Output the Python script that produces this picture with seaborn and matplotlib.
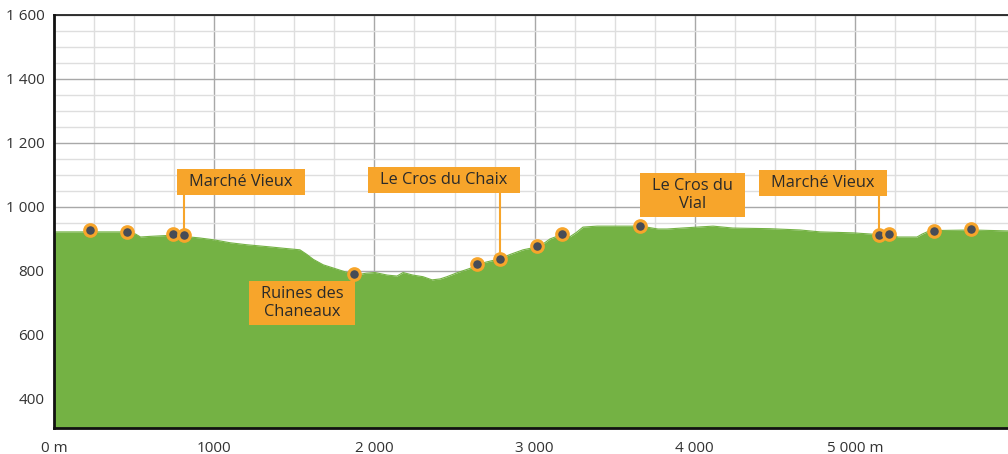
import numpy as np
import pandas as pd
import matplotlib
matplotlib.use("Agg")
import matplotlib.pyplot as plt
from matplotlib.patches import Rectangle
import seaborn as sns

# ---- data ----
dist_m = [0, 470, 510, 540, 600, 755, 850, 910, 1000, 1100, 1200, 1350, 1450, 1535,
          1577, 1619, 1681, 1744, 1800, 1879, 1950, 2004, 2080, 2141, 2179, 2240,
          2303, 2360, 2410, 2453, 2520, 2597, 2640, 2700, 2784, 2850, 2928, 3015,
          3060, 3096, 3171, 3221, 3260, 3302, 3390, 3658, 3700, 3770, 3826, 3950,
          4114, 4238, 4469, 4657, 4782, 4988, 5137, 5219, 5268, 5387, 5418, 5468,
          5730, 5955]
elev_m = [922, 922, 915, 906, 908, 912, 906, 903, 897, 888, 882, 875, 870, 866,
          852, 836, 819, 809, 800, 787, 793, 795, 787, 784, 795, 787,
          782, 772, 775, 782, 795, 808, 820, 828, 838, 852, 866, 875,
          887, 900, 914, 907, 920, 937, 940, 940, 937, 931, 931, 935,
          940, 934, 932, 928, 922, 919, 914, 914, 906, 906, 915, 926,
          928, 925]

wp_dist = [225, 456, 743, 811, 1873, 2640, 2784, 3015, 3171, 3658, 5150, 5212, 5493, 5724]
wp_elev = [928, 922, 916, 912, 791, 822, 837, 878, 916, 941, 912, 916, 925, 931]

label_text = ["Marché Vieux", "Ruines des\nChaneaux", "Le Cros du Chaix", "Le Cros du\nVial", "Marché Vieux"]
label_x = [1167, 1548, 2434, 3983, 4800]
label_y = [1078, 700, 1084, 1037, 1075]
# connector lines: waypoint distance and elevation (None = no connector)
conn_x = [811, None, 2784, None, 5150]
conn_bot = [912, None, 837, None, 912]

xtick_vals = [0, 1000, 2000, 3000, 4000, 5000]
xtick_labels = ["0 m", "1000", "2 000", "3 000", "4 000", "5 000 m"]
ytick_vals = [400, 600, 800, 1000, 1200, 1400, 1600]
ytick_labels = ["400", "600", "800", "1 000", "1 200", "1 400", "1 600"]

# ---- style ----
sns.set_style("white")
plt.rcParams["font.family"] = ["Open Sans", "DejaVu Sans"]

GREEN = "#74b244"
ORANGE = "#f7a52b"
DARK = "#474c57"
TEXT = "#333333"

fig = plt.figure(figsize=(10.08, 4.54), dpi=100)
ax = fig.add_axes([54/1008, 1 - 428/454, 1 - 54/1008, (428 - 15)/454])

df = pd.DataFrame({"dist": dist_m, "elev": elev_m})
ymin = 309
ax.fill_between(df["dist"], ymin, df["elev"], color=GREEN, lw=0, zorder=2)
sns.lineplot(data=df, x="dist", y="elev", ax=ax, color=GREEN, lw=0.8, zorder=3)

# connectors (run from label centre down to the waypoint, hidden under the box)
for cx, ly, cb in zip(conn_x, label_y, conn_bot):
    if cx is not None:
        ax.plot([cx, cx], [ly, cb], color=ORANGE, lw=1.5, zorder=4)

wp = pd.DataFrame({"dist": wp_dist, "elev": wp_elev})
sns.scatterplot(data=wp, x="dist", y="elev", ax=ax, s=70, color=DARK,
                edgecolor=ORANGE, linewidth=2.2, zorder=6)

ax.set_xlim(0, 5955)
ax.set_ylim(ymin, 1600)

texts = []
for t, lx, ly in zip(label_text, label_x, label_y):
    texts.append(ax.text(lx, ly, t, ha="center", va="center", fontsize=11.8,
                         color="#2a2a2a", linespacing=1.15, zorder=8))

# label boxes sized from the text extents (padding in pixels)
fig.canvas.draw()
inv = ax.transData.inverted()
PADX, PADY = 12, 5
for tx in texts:
    bb = tx.get_window_extent()
    (x0, y0) = inv.transform((bb.x0 - PADX, bb.y0 - PADY))
    (x1, y1) = inv.transform((bb.x1 + PADX, bb.y1 + PADY))
    ax.add_patch(Rectangle((x0, y0), x1 - x0, y1 - y0, facecolor=ORANGE,
                           edgecolor="none", zorder=7))

ax.set_xticks(xtick_vals)
ax.set_xticklabels(xtick_labels)
ax.set_yticks(ytick_vals)
ax.set_yticklabels(ytick_labels)
ax.set_xticks(np.arange(0, 6000, 250), minor=True)
ax.set_yticks(np.arange(350, 1601, 50), minor=True)
ax.set_axisbelow(True)
ax.grid(which="major", color="#a8a8a8", lw=1.0)
ax.grid(which="minor", color="#dedede", lw=1.0)
ax.tick_params(which="both", length=0, labelsize=11, colors=TEXT)
ax.tick_params(axis="x", pad=9)
ax.tick_params(axis="y", pad=7)
ax.set_xlabel("")
ax.set_ylabel("")

for s in ["left", "bottom"]:
    ax.spines[s].set_color("#111111")
    ax.spines[s].set_linewidth(2.0)
    ax.spines[s].set_zorder(9)
ax.spines["top"].set_color("#222222")
ax.spines["top"].set_linewidth(1.3)
ax.spines["right"].set_visible(False)

fig.savefig("out.png", dpi=100)
